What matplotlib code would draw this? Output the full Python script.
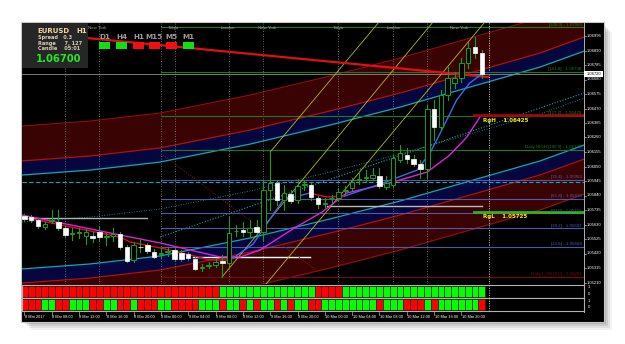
import matplotlib
matplotlib.use("Agg")
import matplotlib.pyplot as plt
from matplotlib.patches import Rectangle

# EURUSD H1 candles, bar 0 = 8 Mar 2017 04:00, last bar = 10 Mar 23:00
opens = [1.05692, 1.05685, 1.05663, 1.05613, 1.05656, 1.05649, 1.05605, 1.05562, 1.05569, 1.05547,
         1.05547, 1.05576, 1.05540, 1.05547, 1.05562, 1.05467, 1.05374, 1.05467, 1.05482, 1.05431,
         1.05417, 1.05431, 1.05446, 1.05424, 1.05417, 1.05381, 1.05316, 1.05330, 1.05338, 1.05366,
         1.05352, 1.05584, 1.05591, 1.05576, 1.05613, 1.05576, 1.05880, 1.05931, 1.05808, 1.05851,
         1.05808, 1.05916, 1.05916, 1.05822, 1.05779, 1.05822, 1.05822, 1.05873, 1.05895, 1.05953,
         1.05967, 1.05967, 1.05982, 1.05902, 1.05916, 1.06098, 1.06134, 1.06105, 1.06069, 1.06033,
         1.06467, 1.06337, 1.06569, 1.06655, 1.06691, 1.06800, 1.06916, 1.06872]
highs = [1.05707, 1.05700, 1.05678, 1.05649, 1.05736, 1.05736, 1.05620, 1.05605, 1.05605, 1.05598,
         1.05576, 1.05620, 1.05569, 1.05605, 1.05576, 1.05482, 1.05497, 1.05518, 1.05497, 1.05453,
         1.05460, 1.05460, 1.05460, 1.05446, 1.05431, 1.05395, 1.05345, 1.05359, 1.05388, 1.05410,
         1.05685, 1.05627, 1.05649, 1.05663, 1.05663, 1.05953, 1.06170, 1.05953, 1.05916, 1.05880,
         1.05953, 1.05953, 1.05931, 1.05837, 1.05822, 1.05844, 1.05895, 1.05909, 1.05967, 1.06011,
         1.06025, 1.06040, 1.06040, 1.05982, 1.06134, 1.06206, 1.06185, 1.06134, 1.06098, 1.06496,
         1.06532, 1.06604, 1.06771, 1.06735, 1.06836, 1.06952, 1.06988, 1.06894]
lows = [1.05656, 1.05649, 1.05605, 1.05598, 1.05641, 1.05591, 1.05540, 1.05518, 1.05533, 1.05489,
        1.05504, 1.05518, 1.05482, 1.05511, 1.05453, 1.05359, 1.05359, 1.05431, 1.05424, 1.05388,
        1.05388, 1.05403, 1.05366, 1.05366, 1.05374, 1.05301, 1.05294, 1.05316, 1.05323, 1.05251,
        1.05338, 1.05547, 1.05547, 1.05540, 1.05547, 1.05518, 1.05736, 1.05772, 1.05736, 1.05786,
        1.05786, 1.05880, 1.05808, 1.05750, 1.05757, 1.05779, 1.05808, 1.05851, 1.05880, 1.05924,
        1.05938, 1.05953, 1.05895, 1.05887, 1.05902, 1.06083, 1.06076, 1.06054, 1.05967, 1.05967,
        1.06242, 1.06315, 1.06532, 1.06619, 1.06662, 1.06764, 1.06836, 1.06691]
closes = [1.05670, 1.05663, 1.05620, 1.05634, 1.05663, 1.05605, 1.05555, 1.05569, 1.05576, 1.05576,
          1.05533, 1.05540, 1.05547, 1.05562, 1.05467, 1.05366, 1.05482, 1.05466, 1.05439, 1.05395,
          1.05424, 1.05439, 1.05381, 1.05381, 1.05388, 1.05309, 1.05323, 1.05338, 1.05359, 1.05352,
          1.05569, 1.05585, 1.05576, 1.05605, 1.05576, 1.05880, 1.05931, 1.05808, 1.05858, 1.05801,
          1.05909, 1.05924, 1.05829, 1.05779, 1.05786, 1.05823, 1.05866, 1.05880, 1.05938, 1.05960,
          1.05974, 1.05989, 1.05909, 1.05931, 1.06112, 1.06148, 1.06105, 1.06069, 1.06033, 1.06467,
          1.06337, 1.06569, 1.06691, 1.06691, 1.06800, 1.06909, 1.06872, 1.06720]

time_labels = ["8 Mar 2017", "8 Mar 08:00", "8 Mar 12:00", "8 Mar 16:00", "8 Mar 20:00",
               "9 Mar 00:00", "9 Mar 04:00", "9 Mar 08:00", "9 Mar 12:00", "9 Mar 16:00",
               "9 Mar 20:00", "10 Mar 00:00", "10 Mar 04:00", "10 Mar 08:00", "10 Mar 12:00",
               "10 Mar 16:00", "10 Mar 20:00"]
price_labels = ["1.06995", "1.06890", "1.06785", "1.06680", "1.06575", "1.06470", "1.06365",
                "1.06260", "1.06155", "1.06050", "1.05945", "1.05840", "1.05735", "1.05630",
                "1.05525", "1.05420", "1.05315", "1.05210"]
current_price = 1.06720

# trend bar rows of the two sub windows (r = red, g = green)
row_trend = "rrrrrrrrrrrrrrrrrrrrrrrrrrrrrggggggggggggggrrrrgggggggggggggggggggggr"[:68]
row_candle = "rrrggrrgggrrggrrgrrrggrrrrgggrggrgrggrgrggrrggggggggrgggrrrgrggggggrr"[:68]

# indicator lines (bar, price)
magenta_x = [-0.3, 14.0, 19.9, 24.3, 28.7, 31.6, 34.5, 39.3, 43.6, 47.2, 53.5, 59.0, 62.3, 64.8, 66.7]
magenta_y = [1.05699, 1.05555, 1.05497, 1.05446, 1.05395, 1.05395, 1.05446, 1.05598, 1.05721,
             1.05859, 1.05931, 1.06011, 1.06134, 1.06264, 1.06409]
fast_dn_x = [-0.3, 14.0, 15.5, 19.9, 24.3, 27.2, 29.7, 30.6]
fast_dn_y = [1.05685, 1.05540, 1.05504, 1.05461, 1.05410, 1.05374, 1.05374, 1.05388]
fast_up_x = [30.6, 33.5, 37.9, 41.8]
fast_up_y = [1.05388, 1.05490, 1.05808, 1.05859]
fast_dn2_x = [41.8, 44.3, 46.9]
fast_dn2_y = [1.05859, 1.05830, 1.05837]
fast_up2_x = [46.9, 52.5, 57.5, 59.4, 60.9, 63.3, 65.2, 67.2]
fast_up2_y = [1.05837, 1.05931, 1.06025, 1.06148, 1.06293, 1.06532, 1.06655, 1.06727]
red_trend_x = [-0.34, 67.9]
red_trend_y = [1.07027, 1.06699]

# polynomial regression channel: centre line points and band offsets
chan_x = [-0.34, 9.62, 19.87, 33.04, 44.76, 55.01, 65.26, 75.51, 81.95]
chan_c = [1.05649, 1.05685, 1.05743, 1.05873, 1.06011, 1.06141, 1.06286, 1.06431, 1.06546]
chan_off = [0.00340, 0.00442, 0.00695]
steep_x = [19.87, 81.95]
steep_y = [1.05540, 1.06583]

# daily fibo levels
fib_names = ["[200.0]", "[161.8]", "[127.2]", "Daily HIGH [100.0]", "[76.4]", "[61.8]",
             "[50.0]", "[38.2]", "[23.6]", "Daily LOW [0.0]"]
fib_prices = [1.07060, 1.06738, 1.06420, 1.06170, 1.05953, 1.05819, 1.05711, 1.05602,
              1.05468, 1.05251]
fib_colors = ["#1d7a1d", "#1d7a1d", "#1d7a1d", "#1d7a1d", "#4e5aa8", "#4e5aa8", "#4e5aa8",
              "#4e5aa8", "#4e5aa8", "#7a0a0a"]

sessions = ["New York", "Tokyo", "London", "New York", "Tokyo", "London", "New York"]
session_x = [9.3, 21.0, 28.7, 34.2, 45.2, 53.0, 62.3]
vlines_x = [6, 11, 20, 22, 30, 35, 46, 54, 59]

tf_names = ["D1", "H4", "H1", "M15", "M5", "M1"]
tf_colors = ["#10e010", "#10e010", "#f01010", "#f01010", "#f01010", "#10e010"]

W, H = 625, 344
fig = plt.figure(figsize=(6.25, 3.44), dpi=100)
fig.patch.set_facecolor("white")
small = ["Liberation Sans", "DejaVu Sans"]

def fx(px):
    return px / W

def fy(py):
    return 1 - py / H

# drop shadow + window
for k, a in [(9, 0.05), (7, 0.07), (5, 0.09), (3, 0.12)]:
    fig.patches.append(Rectangle((fx(22 + k), fy(321 + k)), fx(581), 298 / H, zorder=-5,
                                 transform=fig.transFigure, color="black", alpha=a, lw=0))
fig.patches.append(Rectangle((fx(21), fy(322)), fx(583), 300 / H, transform=fig.transFigure,
                             facecolor="black", edgecolor="#c8c8c8", lw=0.8, zorder=-4))

xlim = (-0.34, 81.95)
ylim = (1.05200, 1.07090)
ax = fig.add_axes([fx(22), fy(284), fx(562), 261 / H])
ax.set_facecolor("black")
ax.set_xlim(*xlim)
ax.set_ylim(*ylim)
ax.axis("off")

DRED = "#3a0303"
NAVY = "#06063e"

inner, mid, outer = chan_off
for s in (1, -1):
    a = [c + s * inner for c in chan_c]
    b = [c + s * mid for c in chan_c]
    d = [c + s * outer for c in chan_c]
    ax.fill_between(chan_x, a, b, color=NAVY, lw=0, zorder=1)
    ax.fill_between(chan_x, b, d, color=DRED, lw=0, zorder=1)
    ax.plot(chan_x, a, color="#10a8b8", lw=0.9, zorder=2)
    ax.plot(chan_x, b, color="#b01010", lw=0.9, zorder=2)
    ax.plot(chan_x, d, color="#901010", lw=0.8, zorder=2)
ax.plot(chan_x, chan_c, color="#10a8b8", lw=0.6, ls=(0, (1, 2)), zorder=2)
ax.plot(steep_x, steep_y, color="#10a8b8", lw=0.8, ls=(0, (1, 1.5)), zorder=2)

for v in vlines_x:
    ax.axvline(v, color="#8a8a7a", lw=0.6, ls=(0, (1, 2)), zorder=2)
ax.axvline(68, color="#d0d0d0", lw=0.7, ls=(0, (1, 1.5)), zorder=2)

# fibo levels
for name, p, c in zip(fib_names, fib_prices, fib_colors):
    ax.plot([20, 81.95], [p, p], color=c, lw=0.8, zorder=3)
    ax.text(81.6, p + 0.00004, f"{name} - {p:.5f}", color=c, fontsize=3.2, ha="right",
            va="bottom", zorder=6, family=small, clip_on=True)

ax.axhline(1.05938, color="#10a8b8", lw=0.8, ls=(0, (4, 2)), zorder=3)
ax.axhline(current_price, color="#8c8c8c", lw=0.6, zorder=3)
ax.plot([-0.34, 18], [1.05678, 1.05678], color="#b0b0b0", lw=1.0, zorder=3)
ax.plot([24.7, 41.8], [1.05395, 1.05395], color="white", lw=1.0, zorder=3)
ax.plot([44.3, 67], [1.05765, 1.05765], color="#b8b8b8", lw=1.0, zorder=3)

# yellow fan lines and dotted handle
ax.plot([36.0, 51.8], [1.06156, 1.07089], color="#b8b820", lw=0.6, zorder=3)
ax.plot([28.95, 59.7], [1.05251, 1.07089], color="#b8b820", lw=0.6, zorder=3)
ax.plot([35.4, 67.3], [1.05200, 1.07089], color="#b8b820", lw=0.6, zorder=3)
ax.plot([20.3, 43.3], [1.06134, 1.05279], color="#8a1010", lw=0.7, ls=(0, (1, 1.5)), zorder=3)

# moving averages
ax.plot(red_trend_x, red_trend_y, color="#e01010", lw=1.6, zorder=4)
ax.plot(magenta_x, magenta_y, color="#e020e0", lw=1.0, zorder=4)
ax.plot(fast_dn_x, fast_dn_y, color="#e01010", lw=1.0, zorder=4)
ax.plot(fast_up_x, fast_up_y, color="#3a6ae8", lw=1.0, zorder=4)
ax.plot(fast_dn2_x, fast_dn2_y, color="#e01010", lw=1.0, zorder=4)
ax.plot(fast_up2_x, fast_up2_y, color="#3a6ae8", lw=1.0, zorder=4)

# candles
for i in range(len(opens)):
    o, h, l, c = opens[i], highs[i], lows[i], closes[i]
    ax.plot([i, i], [l, h], color="#18a018", lw=0.8, zorder=5)
    bot, top = min(o, c), max(o, c)
    hgt = max(top - bot, 0.00002)
    if c >= o:
        ax.add_patch(Rectangle((i - 0.33, bot), 0.66, hgt, facecolor="black",
                               edgecolor="#18a018", lw=0.7, zorder=5))
    else:
        ax.add_patch(Rectangle((i - 0.33, bot), 0.66, hgt, facecolor="white",
                               edgecolor="white", lw=0.5, zorder=5))

# RgH / RgL
ax.plot([65.8, 81.95], [1.06425, 1.06425], color="#a00808", lw=2.0, zorder=4)
ax.plot([65.8, 81.95], [1.05725, 1.05725], color="#30b020", lw=2.0, zorder=4)
ax.text(67.2, 1.06405, "RgH    1.06425", color="#f0f000", fontsize=4, fontweight="bold",
        va="top", zorder=6)
ax.text(67.2, 1.05705, "RgL    1.05725", color="#f0f000", fontsize=4, fontweight="bold",
        va="top", zorder=6)

# session names
for name, sx in zip(sessions, session_x):
    ax.text(sx, 1.07070, name, color="#a0a0a0", fontsize=3.2, va="top", zorder=6, family=small)

# sub windows
for row, top in [(row_trend, 284.5), (row_candle, 298.0)]:
    sa = fig.add_axes([fx(22), fy(top + 13.2), fx(562), 13.2 / H])
    sa.set_facecolor("black")
    sa.set_xlim(*xlim)
    sa.set_ylim(0, 1)
    sa.set_xticks([])
    sa.set_yticks([])
    for s in sa.spines.values():
        s.set_color("#b0b0b0")
        s.set_linewidth(0.8)
    for i, ch in enumerate(row):
        col = "#00ff00" if ch == "g" else "#ff0000"
        sa.add_patch(Rectangle((i - 0.5, 0.08), 1.0, 0.84, facecolor=col, edgecolor="#3a1a10",
                               lw=0.5))
    sa.axvline(68, color="#d0d0d0", lw=0.7, ls=(0, (1, 1.5)))
    fig.text(fx(588), fy(top + 2.5), "1", color="white", fontsize=3, va="center", family=small)
    fig.text(fx(588), fy(top + 9.5), "0", color="white", fontsize=3, va="center", family=small)

# price axis
fig.add_artist(plt.Line2D([fx(584), fx(584)], [fy(23), fy(312)], color="#b0b0b0", lw=0.7))
for k, lab in enumerate(price_labels):
    py = 36 + k * 14.5
    fig.text(fx(586.5), fy(py), lab, color="white", fontsize=3, va="center", family=small)
    fig.add_artist(plt.Line2D([fx(584), fx(586)], [fy(py), fy(py)], color="#b0b0b0", lw=0.5))
cy = fy(284 - (current_price - ylim[0]) / (ylim[1] - ylim[0]) * 261)
fig.patches.append(Rectangle((fx(584), cy - 3.3 / H), fx(19), 6.6 / H, transform=fig.transFigure,
                             facecolor="white", lw=0, zorder=3))
fig.text(fx(586.5), cy, f"{current_price:.5f}", color="black", fontsize=3, va="center",
         family=small, zorder=4)

# time axis
for k, lab in enumerate(time_labels):
    bx = 4 * k
    px = 22 + (bx - xlim[0]) / (xlim[1] - xlim[0]) * 562
    fig.add_artist(plt.Line2D([fx(px), fx(px)], [fy(312), fy(314.5)], color="#b0b0b0", lw=0.5))
    fig.text(fx(px + 0.5), fy(316.5), lab, color="white", fontsize=2.8, va="center", family=small)

# info panel
fig.patches.append(Rectangle((fx(22), fy(68)), fx(66), 45 / H, transform=fig.transFigure,
                             facecolor="#262626", lw=0, zorder=3))
fig.text(fx(37), fy(31), "EURUSD", color="#f0d8a0", fontsize=5, fontweight="bold", va="center", zorder=4)
fig.text(fx(76), fy(31), "H1", color="#f0d8a0", fontsize=5, fontweight="bold", va="center", zorder=4)
fig.text(fx(38), fy(37), "Spread   0.3", color="#d8cfb8", fontsize=3.6, fontweight="bold",
         va="center", zorder=4)
fig.text(fx(38), fy(43), "Range     7, 127", color="#d8cfb8", fontsize=3.6, fontweight="bold",
         va="center", zorder=4)
fig.text(fx(38), fy(49), "Candle    05:01", color="#d8cfb8", fontsize=3.6, fontweight="bold",
         va="center", zorder=4)
fig.text(fx(36), fy(59.5), "1.06700", color="#22e822", fontsize=7.2, fontweight="bold",
         va="center", zorder=4)

tf_x = [99, 116, 133, 149, 166, 183]
for name, tx, col in zip(tf_names, tf_x, tf_colors):
    fig.text(fx(tx + 5.5), fy(37), name, color="#9a9a9a", fontsize=5.2, fontweight="bold",
             ha="center", va="center", zorder=4)
    fig.patches.append(Rectangle((fx(tx), fy(48.5)), fx(11), 6 / H, transform=fig.transFigure,
                                 facecolor=col, lw=0, zorder=3))

fig.savefig("out.png", dpi=100, facecolor="white")
